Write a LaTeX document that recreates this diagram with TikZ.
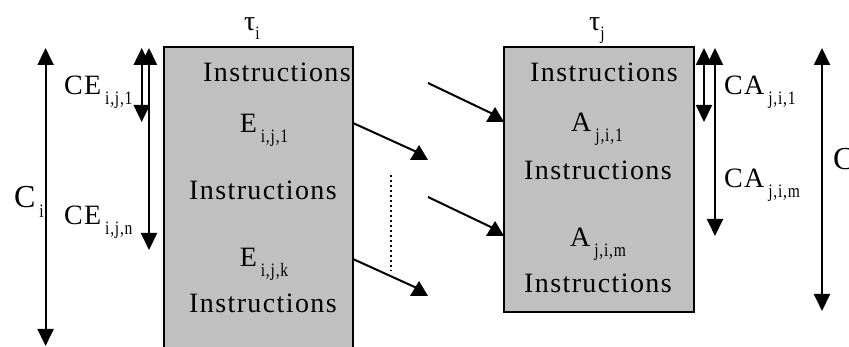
\documentclass[tikz,border=0pt]{standalone}
\usepackage{graphicx}
\usepackage{fontspec}
\setmainfont{Liberation Serif}[LetterSpace=5]
\usetikzlibrary{arrows.meta}
\definecolor{boxgray}{HTML}{C0C0C0}
\newcommand\sbs[1]{\hspace{4pt}\raisebox{-10pt}{\scalebox{0.82}[1]{\fontsize{19}{19}\selectfont #1}}}
\newcommand\tsub[1]{\hspace{0pt}\raisebox{-9pt}{\scalebox{0.82}[1]{\fontsize{19}{19}\selectfont #1}}}
\begin{document}
\begin{tikzpicture}[x=1pt,y=-1pt,line width=2pt,
  every node/.style={inner sep=0pt,font=\fontsize{28}{28}\selectfont},
  txt/.style={anchor=base},
  lbl/.style={anchor=base west},
  big/.style={anchor=base west,font=\fontsize{32}{32}\selectfont},
  box/.style={draw,fill=boxgray,line width=2pt,inner sep=0pt},
  dim/.style={{Triangle[width=16pt,length=17pt]}-{Triangle[width=16pt,length=17pt]}},
  dots/.style={dash pattern=on 2.5pt off 2.5pt}]
\useasboundingbox (0,0) rectangle (849,347);

% boxes
\node[box,minimum width=189pt,minimum height=310pt] (boxi) at (258.5,202) {};
\node[box,minimum width=190pt,minimum height=265pt] (boxj) at (599,179.5) {};

% titles
\node[lbl] (taui) at (243,31) {τ\tsub{i}};
\node[lbl] (tauj) at (588,31) {τ\tsub{j}};

% left box texts
\node[txt] (ins1) at (277,82) {Instructions};
\node[txt] (e1)   at (264,133) {E\sbs{i,j,1}};
\node[txt] (ins2) at (263,200) {Instructions};
\node[txt] (ek)   at (264,267) {E\sbs{i,j,k}};
\node[txt] (ins3) at (263,313) {Instructions};

% right box texts
\node[txt] (ins4) at (604,82) {Instructions};
\node[txt] (a1)   at (597,132) {A\sbs{j,i,1}};
\node[txt] (ins5) at (598,180) {Instructions};
\node[txt] (am)   at (598,247) {A\sbs{j,i,m}};
\node[txt] (ins6) at (598,293) {Instructions};

% left dimension arrows
\coordinate (cit) at (45.6,48);  \coordinate (cib) at (45.6,346);
\coordinate (ce1t) at (141.7,48); \coordinate (ce1b) at (141.7,122);
\coordinate (ce2t) at (149,48);   \coordinate (ce2b) at (149,250);
\draw[dim] (cit) -- (cib);
\draw[dim] (ce1t) -- (ce1b);
\draw[dim] (ce2t) -- (ce2b);
\node[big] (ci) at (13,208) {C\sbs{i}};
\node[lbl] (ce1) at (63,95) {CE\sbs{i,j,1}};
\node[lbl] (ce2) at (63,225) {CE\sbs{i,j,n}};

% right dimension arrows
\coordinate (ca1t) at (704,48); \coordinate (ca1b) at (704,122);
\coordinate (ca2t) at (715,48); \coordinate (ca2b) at (715,236);
\coordinate (cjt) at (822,48);  \coordinate (cjb) at (822,311);
\draw[dim] (ca1t) -- (ca1b);
\draw[dim] (ca2t) -- (ca2b);
\draw[dim] (cjt) -- (cjb);
\node[lbl] (ca1) at (723,95) {CA\sbs{j,i,1}};
\node[lbl] (ca2) at (723,188) {CA\sbs{j,i,m}};
\node[big] (cj) at (832,170) {C};

% message arrows
\coordinate (s1) at (353,123); \coordinate (t1) at (419,153);
\coordinate (s2) at (353,259); \coordinate (t2) at (419,289);
\coordinate (s3) at (428,83);  \coordinate (t3) at (495,115);
\coordinate (s4) at (428,197); \coordinate (t4) at (495,229);
\foreach \s/\t in {s1/t1,s2/t2,s3/t3,s4/t4}{
  \draw (\s) -- (\t);
  \fill (\t) ++(-9,7) -- ++(18,0) -- ++(-9,-15) -- cycle;
}
\coordinate (d1) at (391,175); \coordinate (d2) at (391,271);
\draw[dots] (d1) -- (d2);
\end{tikzpicture}
\end{document}
